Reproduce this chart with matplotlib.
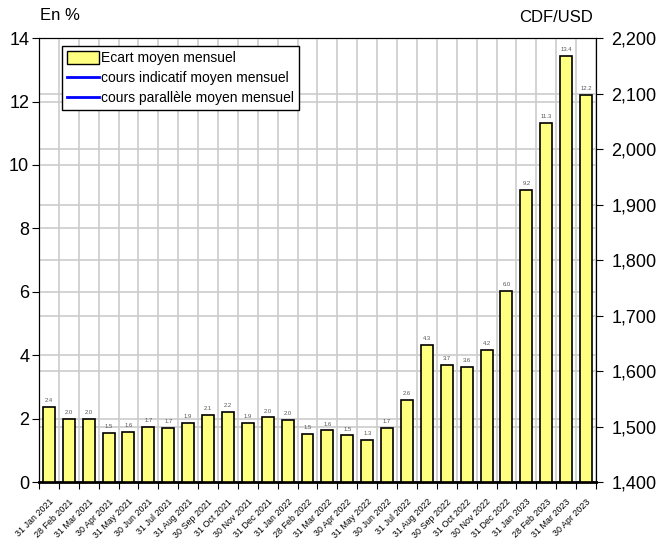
import matplotlib
matplotlib.use("Agg")
import matplotlib.pyplot as plt
from matplotlib.patches import Patch
from matplotlib.lines import Line2D
from matplotlib.ticker import FuncFormatter
import numpy as np

plt.rcParams['font.family'] = ['Liberation Sans', 'DejaVu Sans']

# monthly dates and average gap (%)
dates = ["31 Jan 2021", "28 Feb 2021", "31 Mar 2021", "30 Apr 2021", "31 May 2021",
         "30 Jun 2021", "31 Jul 2021", "31 Aug 2021", "30 Sep 2021", "31 Oct 2021",
         "30 Nov 2021", "31 Dec 2021", "31 Jan 2022", "28 Feb 2022", "31 Mar 2022",
         "30 Apr 2022", "31 May 2022", "30 Jun 2022", "31 Jul 2022", "31 Aug 2022",
         "30 Sep 2022", "31 Oct 2022", "30 Nov 2022", "31 Dec 2022", "31 Jan 2023",
         "28 Feb 2023", "31 Mar 2023", "30 Apr 2023"]
ecart = [2.37, 2.0, 1.98, 1.54, 1.58, 1.73, 1.70, 1.86, 2.11, 2.2,
         1.87, 2.04, 1.96, 1.51, 1.63, 1.47, 1.34, 1.7, 2.6, 4.33,
         3.69, 3.63, 4.16, 6.02, 9.21, 11.33, 13.44, 12.2]
left_ticks = [0, 2, 4, 6, 8, 10, 12, 14]
right_ticks = [1400, 1500, 1600, 1700, 1800, 1900, 2000, 2100, 2200]

fig = plt.figure(figsize=(6.6, 5.48), dpi=100)
ax = fig.add_axes([0.059, 0.1204, 0.844, 0.810])
ax2 = ax.twinx()

n = len(dates)
x = np.arange(n) + 0.5

# grid: left + right horizontal, vertical at category edges
for v in left_ticks:
    ax.axhline(v, color="#cccccc", lw=1.2, zorder=0)
ax.set_xticks(np.arange(n + 1))
ax.xaxis.grid(True, color="#cccccc", lw=1.2)
ax.set_axisbelow(True)
for v in right_ticks:
    ax2.axhline(v, color="#cccccc", lw=1.2, zorder=0)

ax.set_zorder(ax2.get_zorder() + 1)
ax.patch.set_visible(False)

ax.bar(x, ecart, width=0.6, color="#ffff80", edgecolor="black", lw=1.2, zorder=3)
for xi, v in zip(x, ecart):
    ax.text(xi, v + 0.12, "%.1f" % v, ha="center", va="bottom", fontsize=4.2,
            color="#555555", zorder=4)

ax.set_xlim(0, n)
ax.set_ylim(0, 14)
ax.set_yticks(left_ticks)
ax.tick_params(axis="y", labelsize=13, length=5, direction="out", pad=2)
ax.tick_params(axis="x", which="major", labelbottom=False, length=5, direction="out")
ax.set_xticks(x, minor=True)
ax.set_xticklabels(dates, minor=True, rotation=45, ha="right", rotation_mode="anchor", fontsize=6.4)
ax.tick_params(axis="x", which="minor", length=0, pad=11)
ax.spines["bottom"].set_linewidth(2)

ax2.set_ylim(1400, 2200)
ax2.set_yticks(right_ticks)
ax2.yaxis.set_major_formatter(FuncFormatter(lambda v, p: "{:,.0f}".format(v)))
ax2.tick_params(axis="y", labelsize=13, length=5, direction="out", pad=6)

fig.text(0.061, 0.963, "En %", fontsize=12)
fig.text(0.899, 0.960, "CDF/USD", fontsize=12, ha="right")

handles = [Patch(facecolor="#ffff80", edgecolor="black"),
           Line2D([0], [0], color="blue", lw=2),
           Line2D([0], [0], color="blue", lw=2)]
labels = ["Ecart moyen mensuel", "cours indicatif moyen mensuel", "cours parallèle moyen mensuel"]
leg = ax.legend(handles, labels, loc="upper left", bbox_to_anchor=(0.041, 0.982), fontsize=10,
                frameon=True, fancybox=False, edgecolor="black", framealpha=1,
                handlelength=2.3, handleheight=1.1, handletextpad=0.15, labelspacing=0.4,
                borderpad=0.35, borderaxespad=0)
leg.get_frame().set_linewidth(1)

fig.savefig("out.png", dpi=100)
